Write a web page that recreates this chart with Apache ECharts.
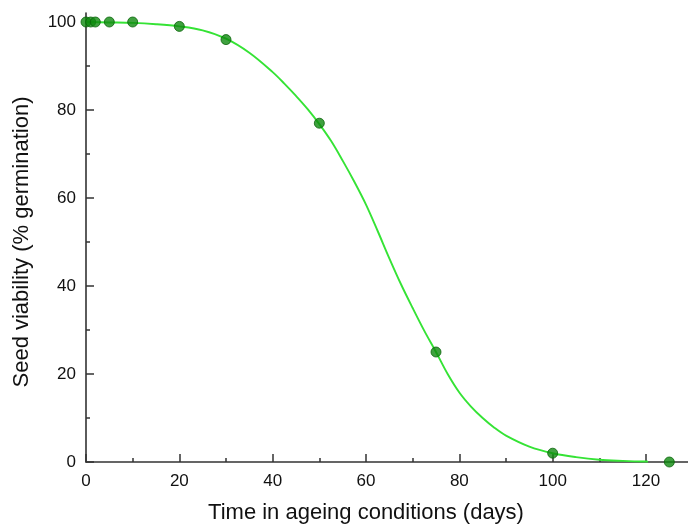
<!DOCTYPE html>
<html><head><meta charset="utf-8">
<script src="https://cdn.jsdelivr.net/npm/echarts@6/dist/echarts.min.js"></script>
<style>html,body{margin:0;padding:0;background:#fff}#c{width:688px;height:526px}</style>
</head><body><div id="c"></div>
<script>
// Observed data points
const obsDays = [0, 1, 2, 5, 10, 20, 30, 50, 75, 100, 125];
const obsViability = [100, 100, 100, 100, 100, 99, 96, 77, 25, 2, 0];
// Fitted curve
const fitDays = [0, 5, 10, 15, 20, 25, 30, 35, 40, 42.5, 45, 47.5, 50, 52.5, 55, 57.5, 60, 62.5, 65, 67.5, 70, 72.5, 75, 77.5, 80, 82.5, 85, 87.5, 90, 95, 100, 105, 110, 115, 120, 125, 129];
const fitViability = [100, 99.9, 99.8, 99.5, 99.0, 98.1, 96.2, 93.0, 88.6, 86.0, 83.2, 80.2, 76.8, 73.0, 68.5, 63.7, 58.5, 52.5, 46.3, 40.4, 35.0, 29.8, 25.0, 20.0, 15.8, 12.6, 10.0, 7.8, 6.0, 3.5, 2.0, 1.1, 0.5, 0.25, 0.1, 0.05, 0.03];
const xTicks = [0, 20, 40, 60, 80, 100, 120];
const yTicks = [0, 20, 40, 60, 80, 100];

const chart = echarts.init(document.getElementById('c'), null, {renderer: 'canvas'});
const font = 'Liberation Sans, Arial, sans-serif';
const axColor = '#333';
const tickStyle = {color: axColor, width: 1.5};
chart.setOption({
  animation: false,
  grid: [
    {left: 86, top: 13, right: 0, bottom: 64, containLabel: false, outerBoundsMode: 'none'},
    {left: 86, top: 22, right: 42, bottom: 64, containLabel: false, outerBoundsMode: 'none'}
  ],
  xAxis: [
    {
      gridIndex: 0, type: 'value', min: 0, max: 129,
      axisLine: {lineStyle: {color: axColor, width: 1.6}},
      axisTick: {show: false}, axisLabel: {show: false}, splitLine: {show: false}
    },
    {
      gridIndex: 1, type: 'value', min: 0, max: 120, interval: 20,
      name: 'Time in ageing conditions (days)', nameLocation: 'middle', nameGap: 40,
      nameTextStyle: {fontFamily: font, fontSize: 22, color: '#111'},
      axisLine: {show: false},
      axisTick: {show: true, inside: true, length: 8, lineStyle: tickStyle},
      minorTick: {show: true, splitNumber: 2, length: 4, lineStyle: tickStyle},
      splitLine: {show: false}, minorSplitLine: {show: false},
      axisLabel: {fontFamily: font, fontSize: 17, color: '#111', margin: 11,
        formatter: v => xTicks.includes(v) ? String(v) : ''}
    }
  ],
  yAxis: [
    {
      gridIndex: 0, type: 'value', min: 0, max: 102,
      axisLine: {show: true, lineStyle: {color: axColor, width: 1.6}},
      axisTick: {show: false}, axisLabel: {show: false}, splitLine: {show: false}
    },
    {
      gridIndex: 1, type: 'value', min: 0, max: 100, interval: 20,
      name: 'Seed viability (% germination)', nameLocation: 'middle', nameGap: 53,
      nameTextStyle: {fontFamily: font, fontSize: 22, color: '#111'},
      axisLine: {show: false},
      axisTick: {show: true, inside: true, length: 8, lineStyle: tickStyle},
      minorTick: {show: true, splitNumber: 2, length: 4, lineStyle: tickStyle},
      splitLine: {show: false}, minorSplitLine: {show: false},
      axisLabel: {fontFamily: font, fontSize: 17, color: '#111', margin: 10,
        formatter: v => yTicks.includes(v) ? String(v) : ''}
    }
  ],
  series: [
    {
      type: 'line', xAxisIndex: 1, yAxisIndex: 1,
      data: fitDays.map((d, i) => [d, fitViability[i]]),
      smooth: 0.35, showSymbol: false, symbol: 'none', clip: false,
      lineStyle: {color: '#35e335', width: 1.9}, z: 2
    },
    {
      type: 'scatter', xAxisIndex: 1, yAxisIndex: 1, clip: false,
      data: obsDays.map((d, i) => [d, obsViability[i]]),
      symbol: 'circle', symbolSize: 10,
      itemStyle: {color: '#0f8a0f', borderColor: '#0a640a', borderWidth: 1}, z: 3
    }
  ]
});
</script></body></html>
